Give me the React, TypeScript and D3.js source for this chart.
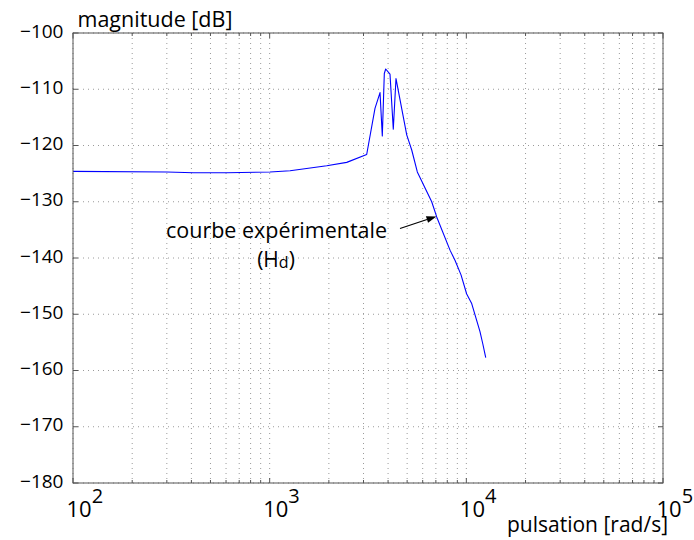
import React from "react";
import * as d3 from "d3";

const omega = [100, 300, 410, 605, 1004, 1270, 1950, 2465, 3114, 3432, 3640, 3739, 3828, 3890, 4091, 4252, 4389, 4976, 5276, 5633, 6667, 7069, 8260, 8755, 9397, 10042, 10649, 11734, 12115, 12550];
const magnitude = [-124.6, -124.7, -124.85, -124.85, -124.7, -124.5, -123.6, -123.0, -121.6, -113.4, -110.6, -118.3, -107.2, -106.4, -107.3, -117.1, -108.1, -118.1, -120.8, -124.7, -130.0, -132.7, -138.6, -140.4, -143.0, -146.4, -148.1, -153.1, -155.2, -157.7];
const yTicks = [-100, -110, -120, -130, -140, -150, -160, -170, -180];
const xTicks = [2, 3, 4, 5];
const annotationLine1 = "courbe expérimentale";
const arrowTarget = { w: 7050, db: -132.6 };

const FONT = "'Open Sans', 'DejaVu Sans', sans-serif";

export default function App() {
  const W = 694, H = 540;
  const left = 73, right = 663, top = 33, bottom = 483;
  const x = d3.scaleLog().domain([1e2, 1e5]).range([left, right]);
  const y = d3.scaleLinear().domain([-180, -100]).range([bottom, top]);
  const line = d3.line<number>().x((_, i) => x(omega[i])).y((d) => y(d));

  const minor: number[] = [];
  for (let e = 2; e < 5; e++) for (let m = 1; m <= 9; m++) minor.push(m * Math.pow(10, e));
  minor.push(1e5);

  const ax = x(arrowTarget.w), ay = y(arrowTarget.db);
  const sx = 400, sy = 228.5;
  const ang = Math.atan2(ay - sy, ax - sx);
  const hl = 10, hw = 3.5;
  const bx = ax - hl * Math.cos(ang), by = ay - hl * Math.sin(ang);
  const p1 = [bx + hw * Math.sin(ang), by - hw * Math.cos(ang)];
  const p2 = [bx - hw * Math.sin(ang), by + hw * Math.cos(ang)];

  return (
    <svg width={W} height={H} style={{ position: "absolute", left: 0, top: 0, background: "#fff" }} fontFamily={FONT}>
      <rect x={0} y={0} width={W} height={H} fill="#fff" />
      {/* grid */}
      <g stroke="#9a9a9a" strokeWidth={1} strokeDasharray="1,4">
        {minor.map((m) => (
          <line key={"v" + m} x1={x(m)} x2={x(m)} y1={top} y2={bottom} />
        ))}
        {yTicks.map((t) => (
          <line key={"h" + t} x1={left} x2={right} y1={y(t)} y2={y(t)} />
        ))}
      </g>
      {/* ticks */}
      <g stroke="#555" strokeWidth={1}>
        {yTicks.map((t) => (
          <g key={"yt" + t}>
            <line x1={left} x2={left + 5} y1={y(t)} y2={y(t)} />
            <line x1={right} x2={right - 5} y1={y(t)} y2={y(t)} />
          </g>
        ))}
        {minor.map((m) => {
          const major = Math.abs(Math.log10(m) - Math.round(Math.log10(m))) < 1e-9;
          const len = major ? 5 : 3;
          return (
            <g key={"xt" + m}>
              <line x1={x(m)} x2={x(m)} y1={bottom} y2={bottom - len} />
              <line x1={x(m)} x2={x(m)} y1={top} y2={top + len} />
            </g>
          );
        })}
      </g>
      {/* curve */}
      <path d={line(magnitude) || ""} fill="none" stroke="#0000ff" strokeWidth={1.1} strokeLinejoin="round" />
      {/* box */}
      <rect x={left} y={top} width={right - left} height={bottom - top} fill="none" stroke="#555" strokeWidth={1} />
      {/* y labels */}
      {yTicks.map((t) => (
        <text key={"yl" + t} x={63.5} y={y(t) + 4.5} textAnchor="end" fontSize={19} fill="#000">
          {"\u2212" + Math.abs(t)}
        </text>
      ))}
      {/* x labels */}
      {xTicks.map((e) => (
        <text key={"xl" + e} x={x(Math.pow(10, e)) - 6.5} y={517} fontSize={22} fill="#000">
          10
          <tspan dy={-14} fontSize={20}>{e}</tspan>
        </text>
      ))}
      <text x={77.5} y={26.5} fontSize={21.5} fill="#000">magnitude [dB]</text>
      <text x={507} y={531.5} fontSize={21} fill="#000">pulsation [rad/s]</text>
      {/* annotation */}
      <text x={276.5} y={237.5} textAnchor="middle" fontSize={21.5} fill="#000">{annotationLine1}</text>
      <text x={276} y={266.5} textAnchor="middle" fontSize={21} fill="#000">
        (H<tspan fontSize={16} dy={1}>d</tspan><tspan dy={-1}>)</tspan>
      </text>
      <line x1={sx} y1={sy} x2={bx} y2={by} stroke="#000" strokeWidth={1.2} />
      <polygon points={`${ax},${ay} ${p1[0]},${p1[1]} ${p2[0]},${p2[1]}`} fill="#000" />
    </svg>
  );
}
